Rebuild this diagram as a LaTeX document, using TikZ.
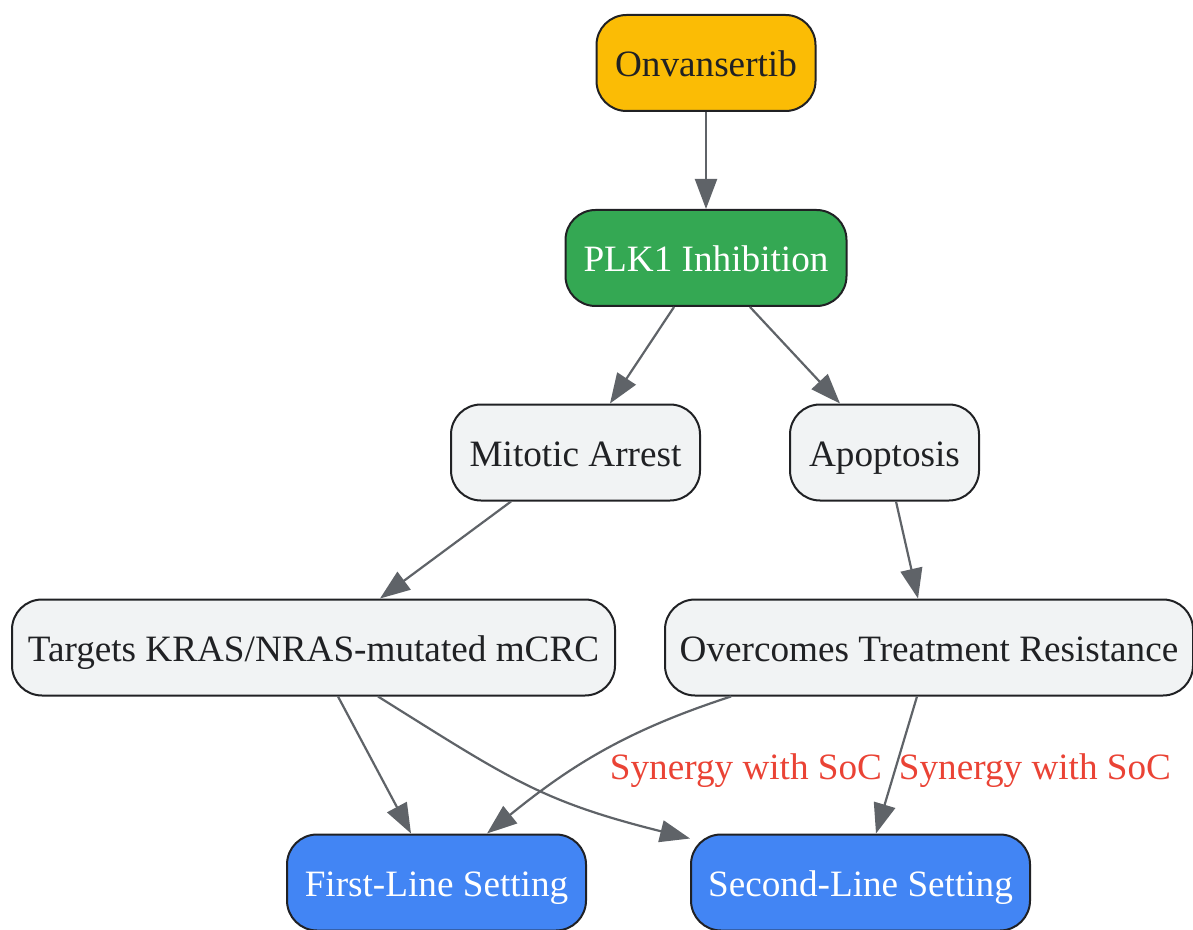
\documentclass[tikz,border=0pt]{standalone}
\usepackage{fontspec}
\setmainfont{Liberation Serif}
\usetikzlibrary{positioning,arrows.meta}

\definecolor{drugyellow}{HTML}{FBBC05}
\definecolor{plkgreen}{HTML}{34A853}
\definecolor{effectgray}{HTML}{F1F3F4}
\definecolor{settingblue}{HTML}{4285F4}
\definecolor{synred}{HTML}{EA4335}
\definecolor{edgegray}{HTML}{5F6368}
\definecolor{inkdark}{HTML}{202124}

\tikzset{
  box/.style={draw=inkdark, line width=1pt, rounded corners=15pt, minimum height=48pt,
    inner xsep=6pt, text height=18pt, text depth=4pt, font=\fontsize{18.6}{22}\selectfont},
  drug/.style={box, fill=drugyellow, text=inkdark},
  pathway/.style={box, fill=plkgreen, text=white},
  effect/.style={box, fill=effectgray, text=inkdark},
  setting/.style={box, fill=settingblue, text=white},
  synlabel/.style={text=synred, inner sep=0pt, font=\fontsize{18.6}{22}\selectfont},
}

\begin{document}
\begin{tikzpicture}[on grid, >={Triangle[length=15pt, width=11pt]}]
   \useasboundingbox (0pt,0pt) rectangle (596.5pt,-465pt);

   \node[drug, minimum width=109.5pt] (onv) at (353pt,-31.5pt) {Onvansertib};
   \node[pathway, minimum width=140.5pt, below=97.5pt of onv] (plk) {PLK1 Inhibition};
   \node[effect, minimum width=124.5pt, below left=97.25pt and 65.25pt of plk] (mit) {Mitotic Arrest};
   \node[effect, minimum width=94.5pt, below right=97.25pt and 89.25pt of plk] (apo) {Apoptosis};
   \node[effect, minimum width=301.5pt, below left=97.5pt and 131pt of mit] (tgt) {Targets KRAS/NRAS-mutated mCRC};
   \node[effect, minimum width=264pt, below right=97.5pt and 22.25pt of apo] (ovc) {Overcomes Treatment Resistance};
   \node[setting, minimum width=149.5pt, below right=117.5pt and 61.5pt of tgt] (first) {First-Line Setting};
   \node[setting, minimum width=169.5pt, below left=117.5pt and 34.25pt of ovc] (second) {Second-Line Setting};

   \path[->, every edge/.append style={draw=edgegray, line width=1.1pt}]
      (onv) edge (plk)
      ([xshift=-16pt]plk.south) edge ([xshift=17.25pt]mit.north)
      ([xshift=22pt]plk.south) edge ([xshift=-22.25pt]apo.north)
      ([xshift=-32.25pt]mit.south) edge ([xshift=33.25pt]tgt.north)
      ([xshift=5.75pt]apo.south) edge ([xshift=-5.5pt]ovc.north)
      ([xshift=12.25pt]tgt.south) edge ([xshift=-12.75pt]first.north)
      ([xshift=32.25pt]tgt.south) edge[out=-32, in=166, looseness=1.15] ([shift={(-85.25pt,-2.5pt)}]second.north)
      ([xshift=-99pt]ovc.south) edge[out=-162, in=39] ([xshift=25.25pt]first.north)
      ([xshift=-6pt]ovc.south) edge ([xshift=7.75pt]second.north);

   \node[synlabel] (syn1) at (373pt,-385.5pt) {Synergy with SoC};
   \node[synlabel] (syn2) at (517.5pt,-385.5pt) {Synergy with SoC};
\end{tikzpicture}
\end{document}
